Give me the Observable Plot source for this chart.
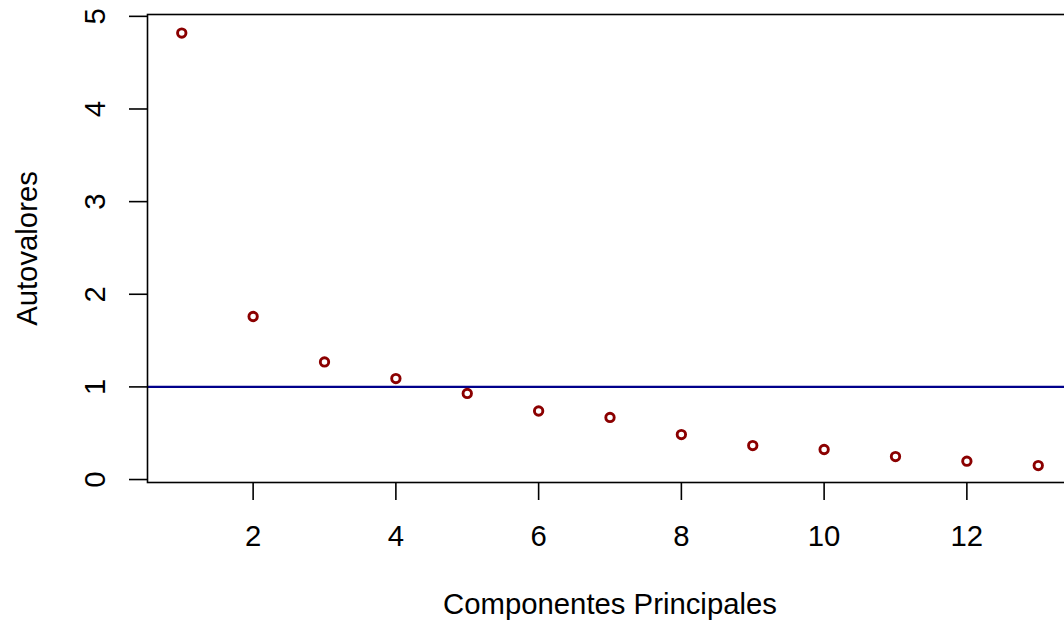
<!DOCTYPE html>
<html>
<head>
<meta charset="utf-8">
<script src="https://cdn.jsdelivr.net/npm/d3@7"></script>
<script src="https://cdn.jsdelivr.net/npm/@observablehq/plot@0.6"></script>
<style>
  html, body { margin: 0; padding: 0; background: white; overflow: hidden; }
  svg { overflow: hidden; }
</style>
</head>
<body>
<div id="chart"></div>
<script>
const components = [1, 2, 3, 4, 5, 6, 7, 8, 9, 10, 11, 12, 13];
const eigenvalues = [4.82, 1.76, 1.27, 1.09, 0.93, 0.74, 0.67, 0.485, 0.367, 0.324, 0.248, 0.198, 0.151];
const xTicks = [2, 4, 6, 8, 10, 12];
const yTicks = [0, 1, 2, 3, 4, 5];
const threshold = [1];
const xTitle = ["Componentes Principales"];
const yTitle = ["Autovalores"];

const data = components.map((c, i) => ({c, v: eigenvalues[i]}));
const font = "Liberation Sans, Arial, Helvetica, sans-serif";
const fs = 29.3;

const chart = Plot.plot({
  width: 1064,
  height: 624,
  marginLeft: 147,
  marginTop: 14,
  marginBottom: 142,
  marginRight: -8,
  style: {fontFamily: font, background: "white", overflow: "hidden"},
  x: {domain: [0.52, 13.48]},
  y: {domain: [-0.032, 5.02]},
  marks: [
    Plot.ruleY(threshold, {stroke: "#00008B", strokeWidth: 2.2}),
    Plot.frame({stroke: "black", strokeWidth: 1.6}),
    Plot.axisX({ticks: xTicks, tickSize: 18, anchor: "bottom", strokeWidth: 1.6, tickFormat: () => "", label: null}),
    Plot.axisY({ticks: yTicks, tickSize: 18, anchor: "left", strokeWidth: 1.6, tickFormat: () => "", label: null}),
    Plot.text(xTicks, {x: d => d, text: d => String(d), frameAnchor: "bottom", dy: 54, lineAnchor: "middle", fontSize: fs, fill: "black"}),
    Plot.text(yTicks, {y: d => d, text: d => String(d), frameAnchor: "left", dx: -52, rotate: -90, lineAnchor: "middle", textAnchor: "middle", fontSize: fs, fill: "black"}),
    Plot.text(xTitle, {text: d => d, frameAnchor: "bottom", dy: 122, lineAnchor: "middle", fontSize: fs, fill: "black"}),
    Plot.text(yTitle, {text: d => d, frameAnchor: "left", dx: -120, rotate: -90, lineAnchor: "middle", textAnchor: "middle", fontSize: fs, fill: "black"}),
    Plot.dot(data, {x: "c", y: "v", r: 4.2, stroke: "#8B0000", strokeWidth: 2.9, fill: "none"})
  ]
});
document.getElementById("chart").appendChild(chart);
</script>
</body>
</html>
